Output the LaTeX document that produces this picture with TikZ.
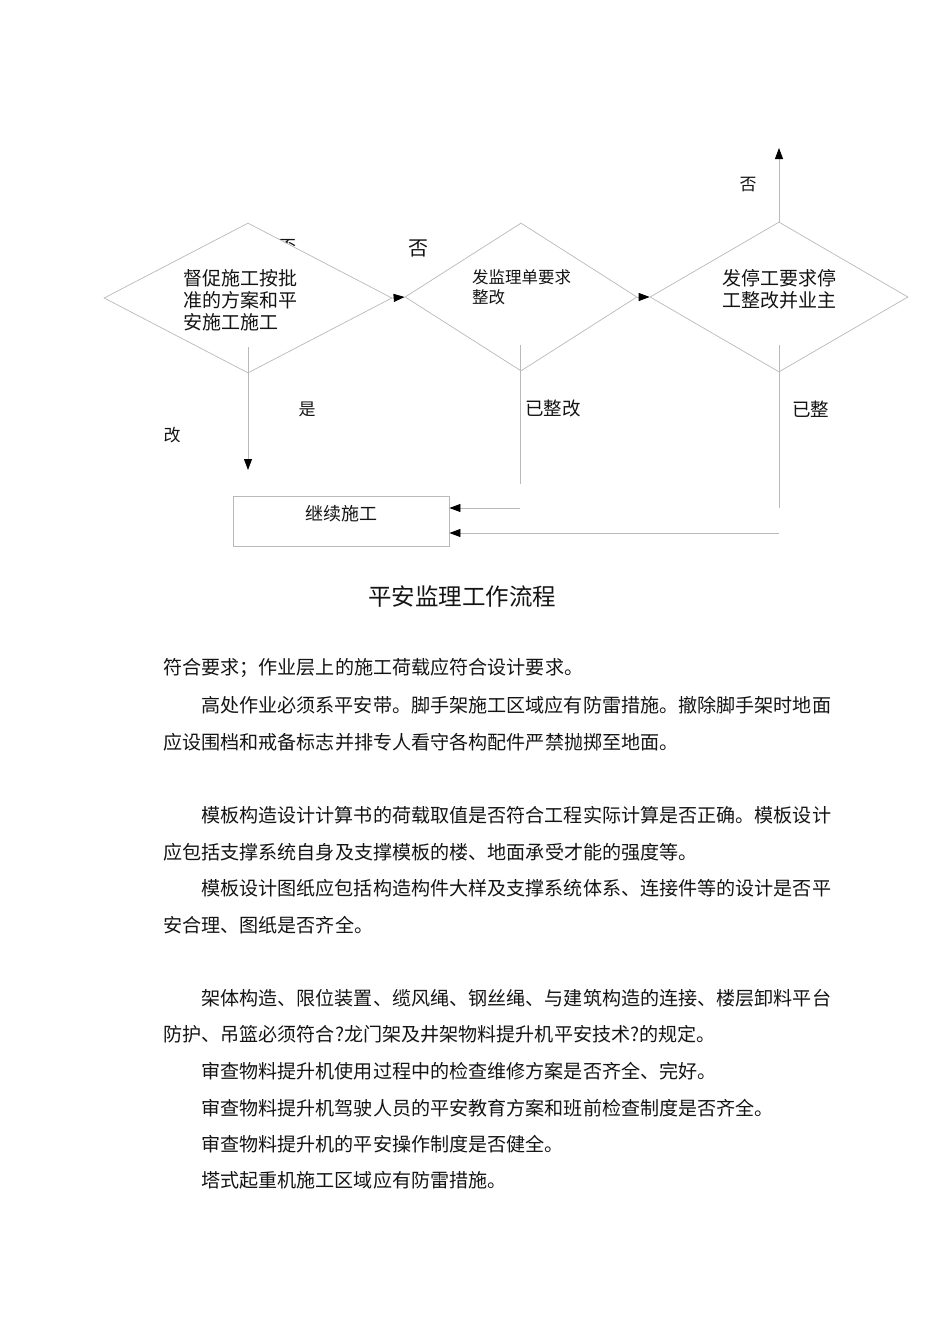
\documentclass[tikz,border=0pt]{standalone}
\usepackage{fontspec}
\setmainfont{Noto Sans CJK SC}
\usetikzlibrary{shapes.geometric,arrows.meta}
\definecolor{linegray}{RGB}{185,185,185}
\definecolor{txt}{RGB}{20,20,20}
\begin{document}
\begin{tikzpicture}[x=1pt,y=-1pt,
  dia/.style={diamond, draw=linegray, fill=white, inner sep=0pt, line width=0.7pt},
  ln/.style={draw=linegray, line width=0.8pt},
  arr/.style={ln, -{Triangle[length=11pt,width=8pt,color=black]}},
  body/.style={inner sep=0pt, anchor=west, text=txt, font=\fontsize{19.09}{22}\selectfont},
  lbl/.style={inner sep=0pt, text=txt, font=\fontsize{17}{20}\selectfont},
  dtext/.style={inner sep=0pt, anchor=west, align=left, text=txt}]
\useasboundingbox (0,0) rectangle (950,1344);

% partially hidden label behind first diamond
\node[lbl, font=\fontsize{18}{20}\selectfont] (hid) at (287,247) {否};

% diamonds
\node[dia, minimum width=288pt, minimum height=150pt] (d1) at (248,298) {};
\node[dia, minimum width=232pt, minimum height=148pt] (d2) at (521,297) {};
\node[dia, minimum width=258pt, minimum height=150pt] (d3) at (779,297) {};

\node[dtext, font=\fontsize{19}{22}\selectfont] (d1t) at (183,300) {督促施工按批\\准的方案和平\\安施工施工};
\node[dtext, font=\fontsize{16.5}{20}\selectfont] (d2t) at (472,287) {发监理单要求\\整改};
\node[dtext, font=\fontsize{19}{22}\selectfont] (d3t) at (722,289) {发停工要求停\\工整改并业主};

% box
\node[draw=linegray, line width=0.8pt, minimum width=216pt, minimum height=50pt, inner sep=0pt] (box) at (341,521) {};
\node[lbl, font=\fontsize{18}{20}\selectfont] (boxt) at (341,514) {继续施工};

% connectors
\draw[arr] (d1.east) -- (d2.west);
\draw[arr] (d2.east) -- (d3.west);
\coordinate (up) at (779,148);
\draw[arr] (d3.north) -- (up);

\coordinate (v1s) at (248,347);
\coordinate (v1e) at (248,470);
\draw[arr] (v1s) -- (v1e);

\coordinate (v2s) at (520,345);
\coordinate (v2e) at (520,484);
\draw[ln] (v2s) -- (v2e);
\coordinate (h2) at (520,508);
\draw[arr] (h2) -- (h2 -| box.east);

\coordinate (v3s) at (779,345);
\coordinate (v3e) at (779,508);
\draw[ln] (v3s) -- (v3e);
\coordinate (h3) at (779,533);
\draw[arr] (h3) -- (h3 -| box.east);

% labels
\node[lbl] (no1) at (748,185) {否};
\node[lbl, font=\fontsize{20}{22}\selectfont] (no2) at (418,248) {否};
\node[lbl] (yes) at (307,409) {是};
\node[lbl] (gai) at (172,435) {改};
\node[lbl, anchor=west, font=\fontsize{18.5}{20}\selectfont] (yz1) at (525,409) {已整改};
\node[lbl, anchor=west, font=\fontsize{18.5}{20}\selectfont] (yz2) at (792,409) {已整};

% title
\node[inner sep=0pt, text=txt, font=\fontsize{23.5}{26}\selectfont] (title) at (462,597) {平安监理工作流程};

% body text
\node[body] (t1) at (163,668) {符合要求；作业层上的施工荷载应符合设计要求。};
\node[body] (t2) at (201,705) {高处作业必须系平安带。脚手架施工区域应有防雷措施。撤除脚手架时地面};
\node[body] (t3) at (163,742) {应设围档和戒备标志并排专人看守各构配件严禁抛掷至地面。};
\node[body] (t4) at (201,815) {模板构造设计计算书的荷载取值是否符合工程实际计算是否正确。模板设计};
\node[body] (t5) at (163,852) {应包括支撑系统自身及支撑模板的楼、地面承受才能的强度等。};
\node[body] (t6) at (201,888) {模板设计图纸应包括构造构件大样及支撑系统体系、连接件等的设计是否平};
\node[body] (t7) at (163,925) {安合理、图纸是否齐全。};
\node[body] (t8) at (201,998) {架体构造、限位装置、缆风绳、钢丝绳、与建筑构造的连接、楼层卸料平台};
\node[body] (t9) at (163,1034) {防护、吊篮必须符合?龙门架及井架物料提升机平安技术?的规定。};
\node[body] (t10) at (201,1071) {审查物料提升机使用过程中的检查维修方案是否齐全、完好。};
\node[body] (t11) at (201,1108) {审查物料提升机驾驶人员的平安教育方案和班前检查制度是否齐全。};
\node[body] (t12) at (201,1144) {审查物料提升机的平安操作制度是否健全。};
\node[body] (t13) at (201,1180) {塔式起重机施工区域应有防雷措施。};
\end{tikzpicture}
\end{document}
